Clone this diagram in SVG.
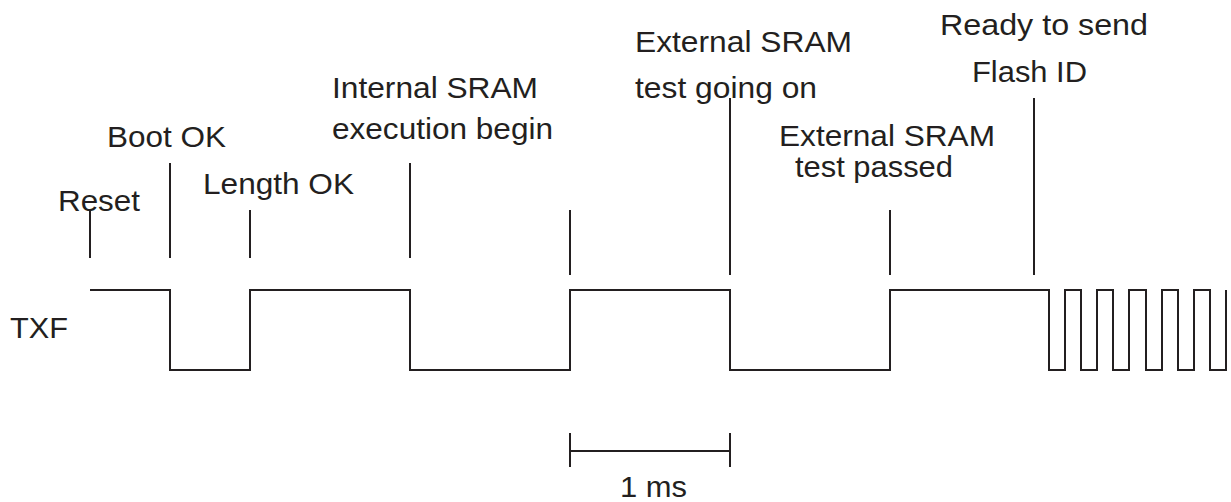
<svg xmlns="http://www.w3.org/2000/svg" width="1231" height="502" viewBox="0 0 1231 502">
<style>
.t{font-family:"Liberation Sans",Arial,sans-serif;font-size:29px;fill:#231f20}
.l{stroke:#231f20;stroke-width:2;fill:none}
</style>
<rect width="1231" height="502" fill="#ffffff"/>
<g id="labels">
<text class="t" x="58" y="211" textLength="82" lengthAdjust="spacingAndGlyphs">Reset</text>
<text class="t" x="107" y="147" textLength="119" lengthAdjust="spacingAndGlyphs">Boot OK</text>
<text class="t" x="203" y="194" textLength="151" lengthAdjust="spacingAndGlyphs">Length OK</text>
<text class="t" x="332" y="98" textLength="206" lengthAdjust="spacingAndGlyphs">Internal SRAM</text>
<text class="t" x="332" y="139" textLength="221" lengthAdjust="spacingAndGlyphs">execution begin</text>
<text class="t" x="635" y="52" textLength="217" lengthAdjust="spacingAndGlyphs">External SRAM</text>
<text class="t" x="635" y="98" textLength="182" lengthAdjust="spacingAndGlyphs">test going on</text>
<text class="t" x="779" y="146" textLength="216" lengthAdjust="spacingAndGlyphs">External SRAM</text>
<text class="t" x="795" y="177" textLength="158" lengthAdjust="spacingAndGlyphs">test passed</text>
<text class="t" x="940" y="35" textLength="208" lengthAdjust="spacingAndGlyphs">Ready to send</text>
<text class="t" x="972" y="82" textLength="115" lengthAdjust="spacingAndGlyphs">Flash ID</text>
<text class="t" x="10" y="338" textLength="58" lengthAdjust="spacingAndGlyphs">TXF</text>
<text class="t" x="620" y="497" textLength="67" lengthAdjust="spacingAndGlyphs">1 ms</text>
</g>
<g id="markers" class="l">
<line x1="90" y1="210" x2="90" y2="258"/>
<line x1="170" y1="163" x2="170" y2="258"/>
<line x1="250" y1="210" x2="250" y2="258"/>
<line x1="410" y1="163" x2="410" y2="258"/>
<line x1="570" y1="210" x2="570" y2="275"/>
<line x1="730" y1="98" x2="730" y2="275"/>
<line x1="890" y1="210" x2="890" y2="275"/>
<line x1="1034" y1="98" x2="1034" y2="275"/>
</g>
<g id="waveform">
<path class="l" d="M90,290 H170 V370 H250 V290 H410 V370 H570 V290 H730 V370 H890 V290 H1049 V370 H1065 V290 H1081 V370 H1097 V290 H1113 V370 H1129 V290 H1146 V370 H1162 V290 H1178 V370 H1194 V290 H1210 V370 H1226 V290"/>
</g>
<g id="scale" class="l">
<line x1="570" y1="451" x2="730" y2="451"/>
<line x1="570" y1="433" x2="570" y2="467"/>
<line x1="730" y1="433" x2="730" y2="467"/>
</g>
</svg>
